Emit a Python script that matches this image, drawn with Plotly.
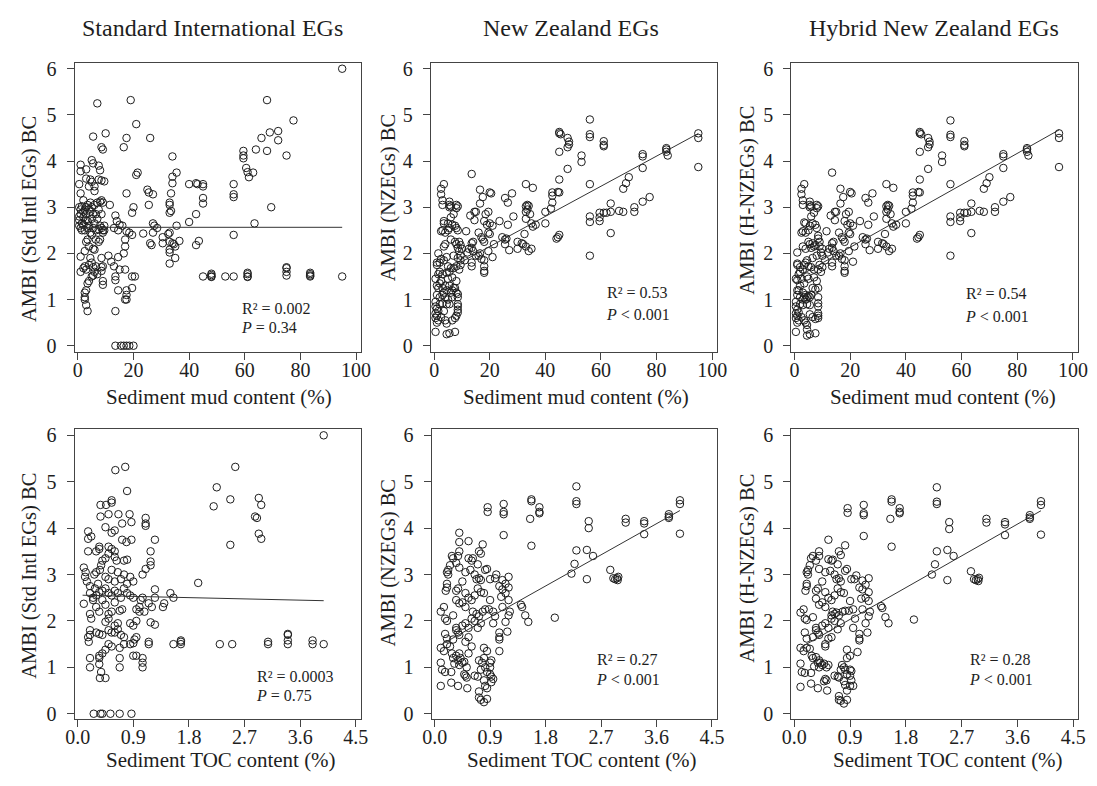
import plotly.graph_objects as go

W, H = 1097, 786

# ---------------- data ----------------
# Panel 1: AMBI (Std Intl EGs) BC vs sediment mud content (%)
std_mud = [
    (95, 6.0), (7, 5.25), (19, 5.32), (68, 5.32), (21, 4.8), (77.5, 4.88),
    (5.5, 4.53), (10, 4.6), (17.5, 4.5), (26, 4.5), (66, 4.5), (69, 4.62), (72, 4.65), (72, 4.45),
    (8.5, 4.3), (9, 4.25), (16.5, 4.3), (75, 4.12), (59.5, 4.22), (59.5, 4.12), (59.5, 4.06), (64, 4.25), (68, 4.22),
    (34, 4.1), (1, 3.92), (5, 4.02), (5.5, 3.95), (7.5, 3.9),
    (1, 3.78), (3, 3.82), (8, 3.8), (21, 3.7), (21.5, 3.75), (34, 3.66), (35.5, 3.75), (60.5, 3.85), (61, 3.76), (61.5, 3.65), (63, 3.75),
    (3, 3.62), (4.5, 3.6), (5, 3.55), (7.5, 3.6), (8.5, 3.58), (9.5, 3.56), (6, 3.45), (6, 3.35), (4, 3.45), (34, 3.52),
    (40, 3.5), (42.5, 3.52), (43, 3.5), (45, 3.5), (45, 3.45), (56, 3.5),
    (0.5, 3.5), (1, 3.3), (2, 3.15), (17.5, 3.3), (25, 3.38), (25.5, 3.32), (27, 3.28), (33.5, 3.3), (56, 3.28), (56, 3.22),
    (45, 3.2), (45, 3.08), (25.5, 3.05), (33, 3.1), (33, 3.05),
    (0.5, 3.0), (1, 2.95), (1.5, 3.02), (2, 2.9), (3, 3.0), (3.5, 3.05), (4.5, 3.1), (5, 3.0), (6, 3.05), (7, 3.1), (8, 3.12),
    (8.5, 3.15), (9, 3.1), (11.5, 3.05), (20, 3.0), (19.5, 2.88), (69.5, 3.0), (33, 2.88), (33.5, 2.92), (42.5, 2.85),
    (0.5, 2.8), (0.5, 2.72), (0.5, 2.6), (1, 2.55), (1.5, 2.65), (2, 2.78), (2.5, 2.5), (3, 2.85), (3.5, 2.7), (4, 2.6),
    (4.5, 2.9), (5, 2.75), (5.5, 2.55), (6, 2.65), (6.5, 2.85), (7, 2.75), (7.5, 2.95), (8, 2.6), (8.5, 2.55), (9, 2.5),
    (9, 2.45), (9.5, 2.6), (9.5, 2.5), (8, 2.3), (7.5, 2.25), (6.5, 2.3), (4.5, 2.45), (3.5, 2.3), (3, 2.25), (2.5, 2.05),
    (4, 2.15), (5.5, 2.1), (6, 2.08), (1, 2.85), (2, 2.62), (3, 2.72), (4, 2.95), (5.5, 2.85), (6.5, 2.5), (7.5, 2.52),
    (8.5, 2.85), (1.5, 2.5), (2.5, 2.95), (3.5, 2.55), (5, 2.4),
    (13.5, 2.82), (14, 2.7), (15, 2.62), (16, 2.6), (17.5, 2.48), (18.5, 2.45), (19.5, 2.4), (13, 2.55), (14.5, 2.5),
    (17, 2.3), (17, 2.15), (16.5, 2.0), (27, 2.65), (27.5, 2.6), (28.5, 2.55), (27, 2.45), (23.5, 2.43), (26, 2.22),
    (26.5, 2.18), (30.5, 2.35), (32.5, 2.42), (33, 2.45), (30.5, 2.22), (33, 2.25), (33, 2.08), (33, 2.02), (34, 2.22),
    (34.5, 2.2), (36.5, 2.27), (35, 2.15), (35.5, 2.6), (40, 2.68), (43.5, 2.27), (42.5, 2.18), (56, 2.4), (63.5, 2.65),
    (33, 1.78), (35, 1.9),
    (1, 1.93), (1, 1.6), (2, 1.68), (2.5, 1.72), (3, 1.65), (4, 1.75), (4.5, 1.9), (5, 1.8), (5.5, 1.7), (6, 1.6),
    (6.5, 1.72), (7, 1.55), (8.5, 1.9), (8.5, 1.7), (8.5, 1.62), (9, 1.72), (9, 1.4), (9, 1.32), (5, 1.5), (5.5, 1.52),
    (4, 1.4), (3.5, 1.35), (3, 1.2), (2.5, 1.15), (2.5, 1.05), (2.5, 1.0), (3, 0.88), (3.5, 0.75), (11, 1.95), (12, 1.82),
    (13, 1.72), (13.5, 1.5), (13.5, 1.42), (15, 1.65), (14.5, 1.92), (17, 1.65), (17.5, 1.2), (17.5, 1.1), (17, 1.0),
    (17.5, 1.0), (19.5, 1.5), (20.5, 1.5), (19.5, 1.25), (14.5, 1.2), (13.5, 0.75),
    (45, 1.5), (48, 1.5), (48, 1.53), (48, 1.56), (48, 1.49), (53, 1.5), (56, 1.5), (61, 1.5), (61, 1.55), (61, 1.58),
    (61, 1.49), (75, 1.52), (75, 1.6), (75, 1.7), (75, 1.68), (83.5, 1.5), (83.5, 1.55), (83.5, 1.58), (83.5, 1.52), (95, 1.5),
    (13.5, 0), (15.5, 0), (16.5, 0), (17.5, 0), (18.5, 0), (20, 0),
]

# Panel 2: AMBI (NZEGs) BC vs mud
nz_mud_high = [
    (45, 4.6), (45, 4.63), (45.5, 4.58), (48, 4.5), (48.5, 4.42), (48.5, 4.36), (48, 4.3), (56, 4.9), (56, 4.58),
    (56, 4.52), (61, 4.43), (61, 4.35), (61, 4.32), (53, 4.12), (53, 3.98), (48, 3.83), (45, 4.2), (45, 3.6),
    (44.5, 3.33), (45, 3.32), (42.5, 3.32), (42.5, 3.25), (42.5, 3.1), (42, 2.97), (40, 2.9), (56, 3.5), (75, 4.15),
    (75, 4.1), (75, 3.85), (83.5, 4.28), (83.5, 4.25), (83.5, 4.2), (84, 4.12), (95, 4.6), (95, 4.5), (95, 3.87),
    (56, 2.8), (56, 2.68), (56, 1.95), (59.5, 2.88), (59.5, 2.78), (59.5, 2.7), (61, 2.88), (62, 2.88), (63.5, 3.08),
    (63.5, 2.9), (63.5, 2.44), (66.5, 2.92), (68, 2.9), (68, 3.4), (69, 3.52), (70, 3.65), (72, 3.0), (72, 2.9),
    (75, 3.12), (77.5, 3.22), (45, 2.4), (44.5, 2.35), (44, 2.32), (40, 2.65),
    (33, 3.5), (33, 3.02), (33.5, 3.05), (34, 3.03), (33.5, 2.95), (33, 2.9), (34.5, 2.85), (35.5, 3.42), (35, 2.65),
    (35.5, 2.58), (36.5, 2.62), (33, 2.75), (32.5, 2.42), (30, 2.25), (31.5, 2.22), (32, 2.2), (33, 2.15), (34, 2.05),
    (35, 2.1), (30, 2.1),
    (13.5, 3.72), (16.5, 3.38), (17.5, 3.22), (20, 3.32), (20.5, 3.3), (25.5, 3.2), (26.5, 3.1), (28, 3.3), (14.5, 2.9),
    (15, 2.9), (13, 2.82), (16.5, 3.08), (18.5, 2.85), (19.5, 2.9), (18, 2.7), (19, 2.62), (20, 2.65), (21, 2.6),
    (23.5, 2.7), (28.5, 2.8), (26.5, 2.62), (14.5, 2.72), (16, 2.45), (17, 2.35), (17.5, 2.3), (18, 2.25), (19.5, 2.45),
    (20, 2.42), (16.5, 2.0), (18, 1.62), (18, 1.58), (18, 1.72), (18, 1.85), (19.5, 2.05), (21, 1.92), (21.5, 2.2),
    (24.5, 2.35), (25.5, 2.3), (26, 2.32), (25.5, 2.2), (27, 2.07), (14, 2.05), (13.5, 2.12), (13.5, 2.22), (14, 2.25),
    (12.5, 2.1), (12, 2.02), (13.5, 1.8), (13.5, 1.72), (16, 1.95), (15, 1.95), (11, 1.85), (11.5, 2.48), (17, 1.88),
]
nz_mud_low = [
    (3.5, 3.5), (2.5, 3.4), (2.5, 3.28), (3, 3.15), (3, 3.05), (5.5, 3.12), (5.5, 3.05), (5.5, 3.0), (6, 3.02), (8, 3.05),
    (8.5, 3.02), (8, 2.98), (3.5, 2.7), (3.5, 2.65), (3, 2.5), (4, 2.45), (5, 2.5), (5.5, 2.55), (6, 2.78), (7, 2.85),
    (7.5, 2.6), (8, 2.55), (8.5, 2.5), (6.5, 2.62), (5, 2.65), (2.5, 2.48), (9, 2.25), (9.5, 2.18), (10, 2.1), (9, 2.05),
    (9.5, 1.95), (8.5, 2.12), (8, 2.2), (7.5, 2.25), (6, 2.3), (4, 2.2), (3.5, 2.15), (2.5, 1.88), (1.5, 2.0), (1, 1.8),
    (1, 1.75), (2, 1.8), (3.5, 1.85), (4.5, 1.92), (5, 1.72), (6, 1.68), (5.5, 1.6), (7, 1.68), (8, 1.72), (9, 1.65),
    (9.5, 1.75), (9.5, 1.85), (8.5, 1.9), (7, 1.95),
    (0.5, 1.45), (1, 1.3), (1.5, 1.25), (2, 1.35), (2.5, 1.4), (3, 1.25), (3.5, 1.15), (4, 1.3), (4.5, 1.2), (5, 1.45),
    (5.5, 1.3), (6, 1.15), (6.5, 1.2), (7, 1.25), (7.5, 1.25), (8, 1.4), (8, 1.15), (8.5, 1.12), (8.5, 1.05), (3, 1.1),
    (4, 1.05), (2, 1.05), (1, 1.1), (5, 1.0), (6.5, 1.05), (2, 1.6), (3, 1.55), (4.5, 1.58), (6.5, 1.48), (1.5, 1.55),
    (0.5, 0.95), (0.5, 0.85), (1, 0.8), (0.5, 0.7), (1, 0.65), (1.5, 0.75), (0.5, 0.6), (1.5, 0.55), (2, 0.9), (3, 0.92),
    (3.5, 0.75), (4.5, 0.9), (5.5, 0.9), (2.5, 0.62), (4, 0.55), (4.5, 0.48), (6.5, 0.55), (7.5, 0.6), (8, 0.65),
    (8.5, 0.9), (8.5, 0.85), (8.5, 0.78), (8.5, 0.72), (1, 0.5), (0.5, 0.3), (4.5, 0.25), (5.5, 0.27), (7.5, 0.3),
]

# Panel 3: AMBI (H-NZEGs) BC vs mud
hnz_mud_high = [
    (45, 4.6), (45, 4.63), (45.5, 4.58), (48, 4.5), (48.5, 4.42), (48.5, 4.36), (48, 4.3), (56, 4.88), (56, 4.57),
    (56, 4.52), (61, 4.43), (61, 4.35), (61, 4.32), (53, 4.12), (53, 3.98), (48, 3.83), (45, 4.2), (45, 3.6),
    (44.5, 3.33), (45, 3.32), (42.5, 3.32), (42.5, 3.25), (42.5, 3.1), (42, 2.97), (40, 2.9), (56, 3.5), (75, 4.15),
    (75, 4.1), (75, 3.85), (83.5, 4.28), (83.5, 4.25), (83.5, 4.2), (84, 4.12), (95, 4.6), (95, 4.5), (95, 3.87),
    (56, 2.8), (56, 2.68), (56, 1.95), (59.5, 2.88), (59.5, 2.78), (59.5, 2.7), (61, 2.88), (62, 2.88), (63.5, 3.08),
    (63.5, 2.9), (63.5, 2.44), (66.5, 2.92), (68, 2.9), (68, 3.4), (69, 3.52), (70, 3.65), (72, 3.0), (72, 2.9),
    (75, 3.12), (77.5, 3.22), (45, 2.4), (44.5, 2.35), (44, 2.32), (40, 2.65),
    (33, 3.5), (33, 3.02), (33.5, 3.05), (34, 3.03), (33.5, 2.95), (33, 2.9), (34.5, 2.85), (35.5, 3.42), (35, 2.65),
    (35.5, 2.58), (36.5, 2.62), (33, 2.75), (32.5, 2.42), (30, 2.25), (31.5, 2.22), (32, 2.2), (33, 2.15), (34, 2.05),
    (35, 2.1), (30, 2.1),
    (13.5, 3.75), (16.5, 3.4), (17.5, 3.22), (20, 3.33), (20.5, 3.3), (25.5, 3.2), (26.5, 3.1), (28, 3.3), (14.5, 2.9),
    (15, 2.9), (13, 2.82), (16.5, 3.08), (18.5, 2.85), (19.5, 2.9), (18, 2.7), (19, 2.62), (20, 2.65), (21, 2.6),
    (23.5, 2.7), (28.5, 2.8), (26.5, 2.62), (14.5, 2.72), (16, 2.45), (17, 2.35), (17.5, 2.3), (18, 2.25), (19.5, 2.45),
    (20, 2.42), (16.5, 2.0), (18, 1.62), (18, 1.58), (18, 1.72), (18, 1.85), (19.5, 2.05), (21, 1.82), (21.5, 2.15),
    (24.5, 2.35), (25.5, 2.3), (26, 2.32), (25.5, 2.2), (27, 2.07), (14, 2.05), (13.5, 2.12), (13.5, 2.22), (14, 2.25),
    (12.5, 2.1), (12, 2.02), (13.5, 1.8), (13.5, 1.72), (16, 1.95), (15, 1.95), (11, 1.85), (11.5, 2.48), (17, 1.88),
]
hnz_mud_low = [
    (3.5, 3.5), (2.5, 3.4), (2.5, 3.28), (3, 3.15), (3, 3.05), (5.5, 3.12), (5.5, 3.05), (5.5, 3.0), (6, 3.02), (8, 3.05),
    (8.5, 3.02), (8, 2.98), (3.5, 2.67), (4, 2.65), (3, 2.48), (4, 2.45), (5, 2.5), (5.5, 2.6), (6, 2.8), (7, 2.88),
    (7.5, 2.62), (8, 2.55), (6.5, 2.65), (2.5, 2.45), (8.5, 2.38), (8.5, 2.32), (9, 2.25), (9, 2.15), (10, 2.1),
    (9.5, 2.02), (10, 1.95), (5, 2.25), (5.5, 2.2), (6.5, 2.22), (7, 2.15), (7.5, 2.18), (6, 2.12), (4, 2.1), (3, 2.15),
    (1, 2.02), (4.5, 1.85), (4, 1.8), (1, 1.78), (1, 1.75), (2, 1.7), (3, 1.65), (5, 1.72), (6, 1.7), (7, 1.65),
    (8.5, 1.65), (9, 1.75), (10, 1.7), (9.5, 1.6), (3.5, 1.75), (6.5, 1.9), (8, 1.95),
    (0.5, 1.45), (1, 1.42), (1.5, 1.2), (2, 1.3), (2.5, 1.45), (3, 1.15), (3.5, 1.05), (4, 1.1), (4.5, 1.05), (5, 1.08),
    (5.5, 1.05), (6, 1.1), (6.5, 1.25), (7.5, 1.22), (8, 1.4), (8.5, 1.05), (4, 1.0), (3, 1.0), (1, 1.1), (2, 1.05),
    (5, 1.45), (4.5, 1.5), (2, 1.6), (1.5, 1.55), (7, 1.48), (3.5, 1.35), (8.5, 1.25), (1, 1.2),
    (0.5, 0.95), (0.5, 0.85), (1, 0.78), (0.5, 0.7), (1, 0.65), (1.5, 0.72), (0.5, 0.6), (1.5, 0.55), (2, 0.9), (3, 0.88),
    (4.5, 0.9), (5.5, 0.88), (2.5, 0.62), (5.5, 0.68), (4, 0.5), (4.5, 0.45), (6.5, 0.62), (7.5, 0.58), (8.5, 0.7),
    (8.5, 0.65), (8.5, 0.6), (8.5, 0.92), (8.5, 0.85), (1, 0.5), (3.5, 0.55),
    (0.5, 0.3), (4.5, 0.22), (5.5, 0.25), (7.5, 0.27), (4.5, 0.35),
]

# Panel 4: AMBI (Std Intl EGs) BC vs sediment TOC content (%)
std_toc = [
    (3.98, 6.0), (0.61, 5.25), (0.77, 5.32), (2.55, 5.32), (0.8, 4.8), (2.25, 4.88), (2.47, 4.62), (2.2, 4.47),
    (2.93, 4.65), (2.97, 4.5), (2.87, 4.25), (2.9, 4.22), (2.93, 3.88), (2.97, 3.77), (2.47, 3.64),
    (0.37, 4.5), (0.46, 4.5), (0.55, 4.55), (0.55, 4.6), (0.5, 4.3), (0.66, 4.3), (0.84, 4.3), (0.87, 4.13), (0.72, 4.1),
    (1.1, 4.22), (1.1, 4.1), (1.1, 4.05), (0.37, 4.25), (0.45, 4.02), (0.6, 3.95), (0.55, 3.9), (0.17, 3.93),
    (0.17, 3.77), (0.22, 3.82), (0.72, 3.75), (0.87, 3.75), (0.79, 3.7), (1.25, 3.75), (1.18, 3.5), (0.17, 3.5),
    (0.3, 3.5), (0.35, 3.6), (0.35, 3.55), (0.5, 3.6), (0.55, 3.55), (0.6, 3.5), (0.5, 3.45), (0.45, 3.35), (0.6, 3.38),
    (0.63, 3.3), (0.75, 3.3), (0.8, 3.32), (0.4, 3.3), (0.38, 3.2), (0.36, 3.1), (0.3, 3.05), (0.27, 3.0), (1.18, 3.28),
    (1.18, 3.2), (1.1, 3.12), (1.05, 3.0), (0.1, 3.15), (0.12, 2.95), (0.15, 2.85), (0.13, 3.05),
    (0.1, 2.37), (0.2, 2.6), (0.25, 2.5), (0.3, 2.55), (0.35, 2.62), (0.4, 2.65), (0.45, 2.7), (0.5, 2.6), (0.55, 2.55),
    (0.6, 2.65), (0.65, 2.6), (0.7, 2.5), (0.75, 2.7), (0.8, 2.6), (0.85, 2.55), (0.9, 2.5), (0.5, 2.9), (0.45, 2.95),
    (0.6, 2.85), (0.7, 2.9), (0.75, 3.0), (0.85, 2.95), (0.8, 2.8), (0.9, 2.85), (0.65, 3.05), (0.55, 3.1), (0.33, 2.8),
    (0.28, 2.7), (0.2, 2.75), (0.4, 2.45), (0.45, 2.35), (0.6, 2.4), (0.68, 2.22), (0.72, 2.25), (0.55, 2.2), (0.5, 2.15),
    (0.35, 2.2), (0.3, 2.3), (0.25, 2.45), (1.02, 2.45), (1.05, 2.5), (0.95, 2.25), (1.0, 2.2), (1.0, 2.3), (1.08, 2.2),
    (1.15, 2.38), (1.2, 2.3), (1.25, 2.5), (1.25, 2.68), (1.38, 2.3), (1.4, 2.38), (1.5, 2.6), (1.55, 2.5), (1.95, 2.82),
    (1.18, 1.97), (1.25, 1.92), (0.95, 2.0), (0.85, 1.95), (0.9, 1.9), (0.65, 1.95), (0.6, 1.9), (0.5, 2.05),
    (0.45, 1.98), (0.2, 2.15), (0.22, 2.05),
    (0.2, 1.8), (0.2, 1.7), (0.17, 1.65), (0.18, 1.55), (0.3, 1.75), (0.35, 1.72), (0.4, 1.7), (0.5, 1.8), (0.55, 1.75),
    (0.6, 1.75), (0.65, 1.82), (0.7, 1.7), (0.75, 1.65), (0.5, 1.5), (0.55, 1.45), (0.45, 1.38), (0.4, 1.3),
    (0.35, 1.25), (0.35, 1.2), (0.2, 1.2), (0.2, 1.0), (0.35, 1.07), (0.38, 0.9), (0.36, 0.77), (0.45, 0.77),
    (0.68, 1.2), (0.68, 1.0), (0.68, 1.42), (0.75, 1.5), (0.85, 1.5), (0.9, 1.52), (0.92, 1.6), (0.95, 1.65),
    (0.9, 1.25), (0.95, 1.25), (1.05, 1.2), (1.05, 1.1), (1.05, 1.0), (1.15, 1.5), (1.15, 1.55),
    (1.55, 1.5), (1.67, 1.5), (1.67, 1.55), (1.67, 1.58), (2.3, 1.5), (2.5, 1.5), (3.08, 1.5), (3.08, 1.55), (3.4, 1.5),
    (3.4, 1.58), (3.4, 1.7), (3.4, 1.72), (3.8, 1.5), (3.8, 1.58), (3.98, 1.5),
    (0.26, 0), (0.37, 0), (0.4, 0), (0.53, 0), (0.68, 0), (0.87, 0),
]

# Panel 5: AMBI (NZEGs) BC vs TOC
nz_toc = [
    (0.86, 4.45), (0.86, 4.35), (1.12, 4.52), (1.12, 4.35), (1.12, 4.3), (1.12, 3.85), (1.57, 4.62), (1.57, 4.58),
    (1.55, 4.2), (1.57, 3.62), (1.7, 4.45), (1.7, 4.35), (1.7, 4.32), (2.3, 4.9), (2.3, 4.58), (2.3, 4.52), (2.3, 3.52),
    (2.27, 3.23), (2.22, 3.02), (2.47, 3.53), (2.5, 4.15), (2.5, 4.0), (2.47, 2.9), (2.57, 3.4), (2.85, 3.1),
    (2.9, 2.92), (2.93, 2.9), (2.96, 2.92), (2.98, 2.95), (2.97, 2.88), (3.1, 4.2), (3.1, 4.12), (3.4, 4.15), (3.4, 4.1),
    (3.4, 3.87), (3.8, 4.3), (3.8, 4.25), (3.8, 4.22), (3.98, 4.6), (3.98, 4.52), (3.98, 3.88),
    (1.4, 2.35), (1.42, 2.3), (1.47, 2.12), (1.52, 1.98), (1.95, 2.07), (1.2, 2.95), (1.1, 2.88), (1.05, 2.75),
    (1.15, 2.8), (1.0, 3.0), (0.98, 2.92), (1.1, 2.68), (1.2, 2.72), (1.15, 2.6), (1.2, 2.45), (1.22, 2.2), (1.2, 2.12),
    (1.15, 1.98), (1.18, 1.77), (1.05, 1.75), (1.05, 1.65), (1.05, 1.6), (1.05, 1.35), (0.98, 2.1), (0.95, 1.95),
    (0.95, 2.2), (1.1, 2.3), (1.08, 2.52),
    (0.4, 3.9), (0.4, 3.7), (0.55, 3.72), (0.78, 3.65), (0.4, 3.5), (0.38, 3.4), (0.28, 3.4), (0.3, 3.35), (0.25, 3.2),
    (0.22, 3.1), (0.2, 3.05), (0.22, 3.0), (0.35, 3.25), (0.4, 3.15), (0.55, 3.35), (0.6, 3.3), (0.62, 3.35),
    (0.72, 3.5), (0.75, 3.45), (0.7, 3.22), (0.58, 3.1), (0.5, 3.05), (0.65, 3.0), (0.68, 2.9), (0.72, 2.92),
    (0.75, 2.88), (0.82, 3.1), (0.85, 3.12), (0.9, 2.9), (0.45, 2.85), (0.38, 2.7), (0.35, 2.65), (0.2, 2.8),
    (0.18, 2.65), (0.2, 2.72), (0.5, 2.6), (0.55, 2.5), (0.6, 2.45), (0.65, 2.55), (0.7, 2.7), (0.75, 2.62), (0.8, 2.6),
    (0.45, 2.4), (0.4, 2.38), (0.35, 2.45), (0.5, 2.3), (0.62, 2.2), (0.68, 2.15), (0.72, 2.1), (0.78, 2.2),
    (0.82, 2.25), (0.88, 2.25), (0.9, 2.45), (0.6, 2.05), (0.65, 2.0), (0.75, 1.95), (0.7, 1.85), (0.5, 1.95),
    (0.55, 1.85), (0.45, 1.9), (0.35, 1.8), (0.38, 1.75), (0.4, 1.7), (0.35, 1.85), (0.3, 1.6), (0.2, 1.62),
    (0.17, 1.72), (0.2, 2.0), (0.17, 2.05), (0.15, 2.3), (0.1, 2.2), (0.3, 2.12), (0.55, 1.65), (0.5, 1.55), (0.6, 1.45),
    (0.1, 1.42), (0.15, 1.35), (0.2, 1.5), (0.25, 1.45), (0.28, 1.3), (0.3, 1.2), (0.35, 1.25), (0.38, 1.15),
    (0.4, 1.3), (0.42, 1.2), (0.45, 1.1), (0.48, 1.12), (0.4, 1.05), (0.32, 1.08), (0.52, 1.0), (0.55, 1.3),
    (0.1, 1.1), (0.12, 0.95), (0.17, 0.9), (0.27, 0.9), (0.1, 0.6), (0.27, 0.67), (0.38, 0.6), (0.53, 0.55),
    (0.48, 0.85), (0.5, 0.82), (0.52, 0.78), (0.65, 0.82), (0.7, 0.8), (0.75, 0.95), (0.72, 1.15), (0.77, 1.1),
    (0.8, 1.2), (0.85, 1.35), (0.8, 1.42), (0.82, 1.0), (0.85, 0.9), (0.9, 1.1), (0.92, 1.15), (0.9, 0.85), (0.92, 0.8),
    (0.95, 0.75), (0.92, 0.68), (0.8, 0.72), (0.82, 0.6), (0.85, 0.55), (0.72, 0.48), (0.72, 0.35), (0.75, 0.3),
    (0.8, 0.25), (0.85, 0.32), (0.9, 1.0),
]

# Panel 6: AMBI (H-NZEGs) BC vs TOC
hnz_toc = [
    (0.86, 4.43), (0.86, 4.33), (1.12, 4.5), (1.12, 4.32), (1.12, 4.28), (1.12, 3.83), (1.57, 4.62), (1.57, 4.57),
    (1.55, 4.2), (1.57, 3.6), (1.7, 4.43), (1.7, 4.35), (1.7, 4.32), (2.3, 4.88), (2.3, 4.57), (2.3, 4.52), (2.3, 3.5),
    (2.27, 3.22), (2.22, 3.0), (2.47, 3.53), (2.5, 4.13), (2.5, 3.98), (2.47, 2.88), (2.57, 3.4), (2.85, 3.07),
    (2.9, 2.9), (2.93, 2.88), (2.96, 2.9), (2.98, 2.93), (2.97, 2.86), (3.1, 4.2), (3.1, 4.12), (3.4, 4.13), (3.4, 4.08),
    (3.4, 3.85), (3.8, 4.28), (3.8, 4.23), (3.8, 4.2), (3.98, 4.58), (3.98, 4.5), (3.98, 3.86),
    (1.4, 2.32), (1.42, 2.28), (1.47, 2.08), (1.52, 1.95), (1.93, 2.03), (1.2, 2.92), (1.1, 2.87), (1.05, 2.72),
    (1.15, 2.78), (1.0, 2.98), (0.97, 2.9), (1.1, 2.68), (1.2, 2.62), (1.15, 2.5), (1.2, 2.43), (1.22, 2.2), (1.2, 2.1),
    (1.15, 1.95), (1.18, 1.75), (1.05, 1.72), (1.05, 1.62), (1.05, 1.58), (1.02, 1.33), (0.98, 2.05), (0.95, 1.85),
    (0.95, 2.25), (1.1, 2.25), (1.08, 2.48),
    (0.55, 3.75), (0.82, 3.63), (0.4, 3.5), (0.4, 3.4), (0.3, 3.4), (0.27, 3.35), (0.25, 3.2), (0.22, 3.1),
    (0.2, 3.05), (0.22, 3.0), (0.35, 3.3), (0.4, 3.12), (0.55, 3.33), (0.6, 3.3), (0.62, 3.32), (0.72, 3.5),
    (0.75, 3.42), (0.7, 3.22), (0.58, 3.08), (0.5, 3.05), (0.65, 3.0), (0.68, 2.9), (0.72, 2.92), (0.75, 2.85),
    (0.82, 3.08), (0.85, 3.12), (0.92, 2.9), (0.45, 2.85), (0.38, 2.7), (0.35, 2.65), (0.2, 2.8), (0.18, 2.65),
    (0.2, 2.75), (0.5, 2.62), (0.55, 2.5), (0.6, 2.45), (0.65, 2.55), (0.7, 2.7), (0.75, 2.62), (0.8, 2.6),
    (0.45, 2.4), (0.4, 2.35), (0.35, 2.48), (0.5, 2.3), (0.62, 2.2), (0.65, 2.15), (0.68, 2.18), (0.72, 2.12),
    (0.6, 2.12), (0.78, 2.2), (0.82, 2.22), (0.88, 2.22), (0.9, 2.43), (0.6, 2.05), (0.65, 2.0), (0.75, 1.95),
    (0.7, 1.82), (0.5, 1.95), (0.55, 1.85), (0.45, 1.9), (0.35, 1.8), (0.38, 1.75), (0.4, 1.7), (0.35, 1.85),
    (0.3, 1.65), (0.2, 1.62), (0.17, 1.75), (0.2, 2.02), (0.17, 2.05), (0.15, 2.25), (0.1, 2.18), (0.3, 2.08),
    (0.55, 1.62), (0.5, 1.5), (0.5, 1.45), (0.6, 1.65),
    (0.1, 1.42), (0.15, 1.35), (0.2, 1.42), (0.25, 1.4), (0.28, 1.25), (0.3, 1.2), (0.35, 1.22), (0.38, 1.1),
    (0.4, 1.15), (0.42, 1.1), (0.45, 1.05), (0.48, 1.08), (0.4, 1.0), (0.32, 1.02), (0.52, 1.0), (0.55, 1.05),
    (0.1, 1.08), (0.12, 0.9), (0.17, 0.88), (0.27, 0.88), (0.1, 0.58), (0.27, 0.65), (0.38, 0.55), (0.53, 0.5),
    (0.48, 0.7), (0.5, 0.75), (0.52, 0.72), (0.65, 0.82), (0.7, 0.8), (0.75, 0.95), (0.72, 0.78), (0.77, 1.05),
    (0.8, 1.0), (0.85, 1.38), (0.85, 1.2), (0.82, 0.95), (0.85, 0.85), (0.9, 0.95), (0.92, 0.92), (0.9, 0.82),
    (0.92, 0.72), (0.95, 0.6), (0.9, 0.6), (0.8, 0.7), (0.82, 0.62), (0.85, 0.5), (0.72, 0.38), (0.72, 0.3),
    (0.75, 0.28), (0.8, 0.22), (0.85, 0.3), (0.9, 1.25),
]

# regression fits: (intercept, slope, x from, x to)
fit_std_mud = (2.565, 0.0, 0.35, 95)
fit_nz_mud = (1.496, 0.03264, 0.35, 95)
fit_hnz_mud = (1.454, 0.0339, 0.35, 95)
fit_std_toc = (2.557, -0.0303, 0.08, 3.98)
fit_nz_toc = (1.41, 0.746, 0.1, 3.98)
fit_hnz_toc = (1.35, 0.76, 0.1, 3.98)

titles = ["Standard International EGs", "New Zealand EGs", "Hybrid New Zealand EGs"]
ytitles = ["AMBI (Std Intl EGs) BC", "AMBI (NZEGs) BC", "AMBI (H-NZEGs) BC"]
xtitles = ["Sediment mud content (%)", "Sediment TOC content (%)"]
stats = [("0.002", "= 0.34"), ("0.53", "< 0.001"), ("0.54", "< 0.001"),
         ("0.0003", "= 0.75"), ("0.27", "< 0.001"), ("0.28", "< 0.001")]
mud_ticks = [0, 20, 40, 60, 80, 100]
toc_ticks = [0.0, 0.9, 1.8, 2.7, 3.6, 4.5]
ambi_ticks = [0, 1, 2, 3, 4, 5, 6]

# ---------------- layout geometry (pixels) ----------------
FONT = "Liberation Serif, Times New Roman, serif"
INK = "#1e1e1e"
boxes = [  # left, right, top, bottom
    (66.7, 358.3, 58.3, 351.7), (429.3, 720.7, 58.3, 351.7), (796, 1087.8, 58.3, 351.7),
    (66.7, 358.3, 430, 724), (430, 720.7, 430, 724), (796, 1088.3, 430, 724),
]
panel_pts = [std_mud, nz_mud_high + nz_mud_low, hnz_mud_high + hnz_mud_low, std_toc, nz_toc, hnz_toc]
panel_fit = [fit_std_mud, fit_nz_mud, fit_hnz_mud, fit_std_toc, fit_nz_toc, fit_hnz_toc]
stat_pos = [(235, 306.7, 326.7), (606, 291, 313.3), (971.7, 292.3, 315),
            (250.7, 680.7, 700), (596.7, 663.3, 684.3), (975.7, 664, 684.3)]
ytitle_pos = [(21, 216.7), (386, 195), (751.7, 197), (21, 579), (386, 565.7), (751.7, 570.7)]
xtitle_pos = [(213.7, 397), (577.3, 397), (950, 397), (215.5, 766), (583, 766), (955.7, 766)]
title_pos = [(207, 22), (572, 22), (941, 22)]

fig = go.Figure()
ann = []
for i in range(6):
    k = i + 1
    xa = "x" if k == 1 else f"x{k}"
    ya = "y" if k == 1 else f"y{k}"
    pts = panel_pts[i]
    xs = [p[0] for p in pts]
    ys = [p[1] for p in pts]
    fig.add_trace(go.Scatter(x=xs, y=ys, mode="markers", xaxis=xa, yaxis=ya,
                             marker=dict(symbol="circle-open", size=7.5, color=INK, line=dict(width=1, color=INK)),
                             showlegend=False))
    b0, b1, xa0, xa1 = panel_fit[i]
    fig.add_trace(go.Scatter(x=[xa0, xa1], y=[b0 + b1 * xa0, b0 + b1 * xa1], mode="lines",
                             xaxis=xa, yaxis=ya, line=dict(color="#333", width=1), showlegend=False))
    l, r, t, b = boxes[i]
    top_row = i < 3
    xaxis = dict(domain=[l / W, r / W], anchor=ya,
                 range=[-1.18, 101.8] if top_row else [-0.05, 4.585],
                 tickmode="array", tickvals=mud_ticks if top_row else toc_ticks,
                 tickformat="d" if top_row else ".1f",
                 showline=True, mirror=True, linecolor="#444", linewidth=1,
                 ticks="outside", ticklen=7, tickwidth=1, tickcolor="#444",
                 ticklabelstandoff=-7,
                 showgrid=False, zeroline=False,
                 tickfont=dict(family=FONT, size=20, color=INK))
    yaxis = dict(domain=[1 - b / H, 1 - t / H], anchor=xa,
                 range=[-0.143, 6.115] if top_row else [-0.112, 6.127],
                 tickmode="array", tickvals=ambi_ticks,
                 showline=True, mirror=True, linecolor="#444", linewidth=1,
                 ticks="outside", ticklen=7, tickwidth=1, tickcolor="#444",
                 ticklabelstandoff=6,
                 showgrid=False, zeroline=False,
                 tickfont=dict(family=FONT, size=20, color=INK))
    fig.update_layout(**{("xaxis" if k == 1 else f"xaxis{k}"): xaxis,
                         ("yaxis" if k == 1 else f"yaxis{k}"): yaxis})

    sx, sy1, sy2 = stat_pos[i]
    r2, pv = stats[i]
    ann.append(dict(x=sx / W, y=1 - sy1 / H, xref="paper", yref="paper", xanchor="left", yanchor="middle",
                    text=f"R² = {r2}", showarrow=False, font=dict(family=FONT, size=16, color=INK)))
    ann.append(dict(x=(sx - 1) / W, y=1 - sy2 / H, xref="paper", yref="paper", xanchor="left", yanchor="middle",
                    text=f"<i>P</i> {pv}", showarrow=False, font=dict(family=FONT, size=16, color=INK)))
    tx, ty = ytitle_pos[i]
    ann.append(dict(x=tx / W, y=1 - ty / H, xref="paper", yref="paper", xanchor="center", yanchor="middle",
                    text=ytitles[i % 3], textangle=-90, showarrow=False, font=dict(family=FONT, size=20.5, color=INK)))
    tx, ty = xtitle_pos[i]
    ann.append(dict(x=tx / W, y=1 - ty / H, xref="paper", yref="paper", xanchor="center", yanchor="middle",
                    text=xtitles[0 if top_row else 1], showarrow=False, borderpad=0,
                    font=dict(family=FONT, size=21, color=INK)))

for j in range(3):
    tx, ty = title_pos[j]
    ann.append(dict(x=tx / W, y=1 - ty / H, xref="paper", yref="paper", xanchor="center", yanchor="middle",
                    text=titles[j], showarrow=False, font=dict(family=FONT, size=24, color=INK)))

fig.update_layout(width=W, height=H, autosize=False, margin=dict(l=0, r=0, t=0, b=0),
                  paper_bgcolor="white", plot_bgcolor="white", annotations=ann,
                  font=dict(family=FONT, color=INK))
fig.write_html("out.html")
